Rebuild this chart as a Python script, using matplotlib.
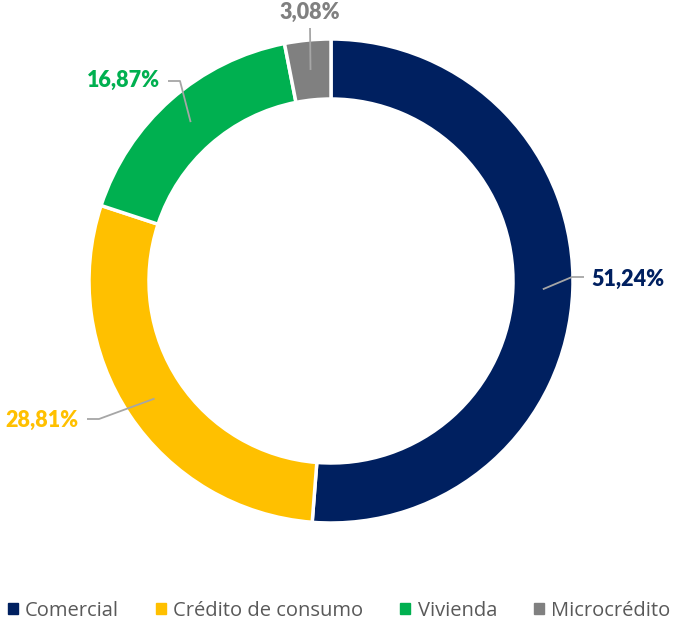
import numpy as np
import matplotlib.pyplot as plt

categorias = ["Comercial", "Crédito de consumo", "Vivienda", "Microcrédito"]
valores = [51.24, 28.81, 16.87, 3.08]
colores = ["#002060", "#FFC000", "#00B050", "#808080"]
etiquetas = ["51,24%", "28,81%", "16,87%", "3,08%"]

# posiciones de las etiquetas (pixeles, y hacia arriba) y codo de la linea guia
pos_texto = [(591, 345), (79, 204), (160, 544), (310, 612)]
codo = [(572, 347), (99, 205), (180, 543), (310, 596)]
fin = [(584, 347), (87, 205), (168, 543), (310, 596)]
alineacion = ["left", "right", "right", "center"]

cx, cy = 331, 343  # centro del anillo
r_ext = 242
ancho = 60

fig = plt.figure(figsize=(6.74, 6.24), dpi=100)
ax = fig.add_axes([0, 0, 1, 1])

wedges, _ = ax.pie(valores, colors=colores, startangle=90, counterclock=False,
                   radius=r_ext, center=(cx, cy),
                   wedgeprops=dict(width=ancho, edgecolor="white", linewidth=2.5))

ax.set_xlim(0, 674)
ax.set_ylim(0, 624)
ax.set_aspect("equal")
ax.axis("off")

r_med = r_ext - ancho / 2
for i, w in enumerate(wedges):
    ang = np.deg2rad((w.theta1 + w.theta2) / 2)
    x0 = cx + r_med * np.cos(ang)
    y0 = cy + r_med * np.sin(ang)
    ax.plot([x0, codo[i][0], fin[i][0]], [y0, codo[i][1], fin[i][1]],
            color="#A6A6A6", lw=1.3, solid_capstyle="butt", zorder=3)
    ax.text(pos_texto[i][0], pos_texto[i][1], etiquetas[i], color=colores[i],
            fontsize=15.5, fontweight="heavy", family="Lato", ha=alineacion[i], va="center")

handles = [plt.Rectangle((0, 0), 1, 1, color=c) for c in colores]
leg = fig.legend(handles, categorias, loc="lower center", bbox_to_anchor=(0.503, -0.024),
                 ncol=4, frameon=False, handlelength=0.5, handleheight=0.5,
                 handletextpad=0.35, columnspacing=1.85,
                 prop={"family": "Open Sans", "size": 14.5})
for t in leg.get_texts():
    t.set_color("#595959")

fig.savefig("out.png", dpi=100)
